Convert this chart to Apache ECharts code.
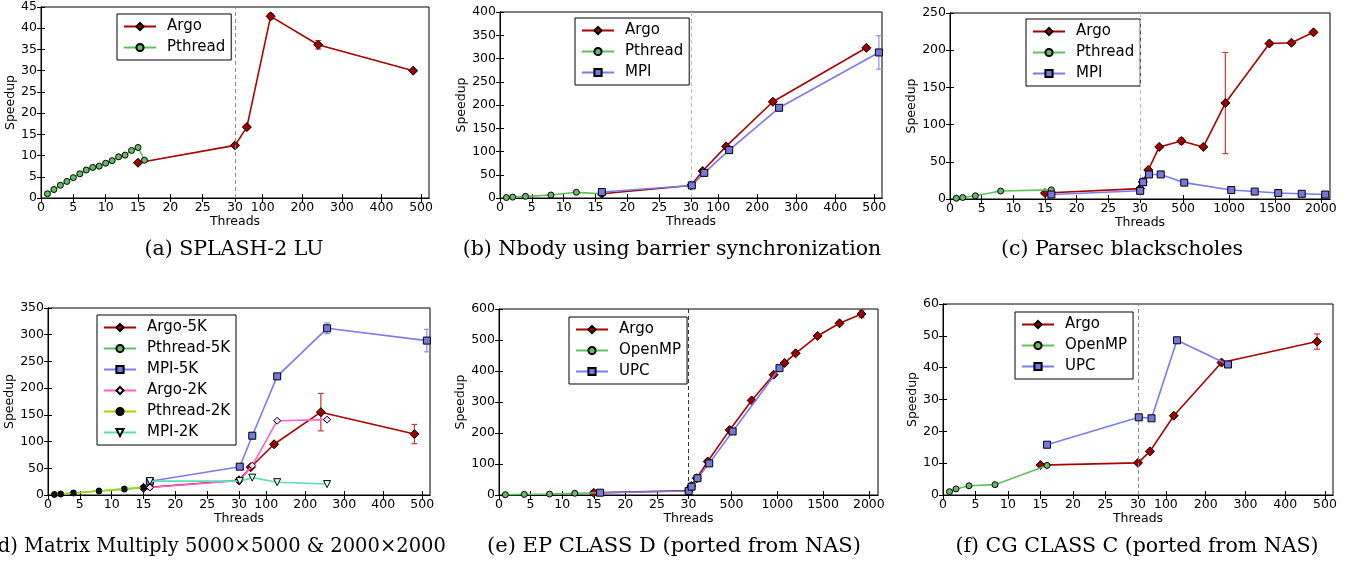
<!DOCTYPE html>
<html>
<head>
<meta charset="utf-8">
<script src="https://cdn.jsdelivr.net/npm/echarts@6/dist/echarts.min.js"></script>
<style>
  html, body { margin: 0; background: #fff; }
  #chart { width: 1356px; height: 565px; }
</style>
</head>
<body>
<div id="chart"></div>
<script>
// tick labels
const lowTicks = [0, 5, 10, 15, 20, 25, 30]
const hiTicks500 = [100, 200, 300, 400, 500]
const hiTicks2000 = [500, 1000, 1500, 2000]

// (a) SPLASH-2 LU
const aArgoThreads = [15, 30, 60, 120, 240, 480]
const aArgoSpeedup = [8.3, 12.4, 16.7, 42.8, 36.1, 30.0]
const aArgoErr = [0.3, 0.3, 0.4, 0.6, 1.0, 0.3]
const aPthreadThreads = [1, 2, 3, 4, 5, 6, 7, 8, 9, 10, 11, 12, 13, 14, 15, 16]
const aPthreadSpeedup = [1.0, 2.0, 3.0, 3.9, 4.8, 5.7, 6.6, 7.2, 7.5, 8.2, 8.8, 9.7, 10.1, 11.2, 11.9, 8.9]

// (b) Nbody
const bArgoThreads = [16, 30, 60, 120, 240, 480]
const bArgoSpeedup = [9, 27, 58, 111, 207, 323]
const bArgoErr = [0.5, 1.5, 2, 3, 3, 3]
const bPthreadThreads = [1, 2, 4, 8, 12, 16]
const bPthreadSpeedup = [1, 1.9, 3.5, 6.4, 12.2, 9.3]
const bMpiThreads = [16, 32, 64, 128, 256, 512]
const bMpiSpeedup = [13, 27, 54, 103, 194, 313]
const bMpiErr = [1, 1, 2, 2, 3, 36]

// (c) Parsec blackscholes
const cArgoThreads = [15, 30, 60, 120, 240, 480, 720, 960, 1440, 1680, 1920]
const cArgoSpeedup = [8, 14, 23, 39, 70, 78, 70, 129, 209, 210, 224]
const cArgoErr = [0.5, 0.5, 1, 2, 2, 4, 2, 68, 2, 2, 2]
const cPthreadThreads = [1, 2, 4, 8, 16]
const cPthreadSpeedup = [1, 2, 4.3, 10.7, 12.3]
const cMpiThreads = [16, 32, 64, 128, 256, 512, 1024, 1280, 1536, 1792, 2048]
const cMpiSpeedup = [6, 11, 22.5, 33, 33, 22, 12, 10, 8, 7, 6]

// (d) Matrix multiply
const dArgo5kThreads = [15, 30, 60, 120, 240, 480]
const dArgo5kSpeedup = [13.5, 27.5, 52, 95, 155, 114]
const dArgo5kErr = [0.5, 1, 2, 3, 35, 18]
const dPthread5kThreads = [1, 2, 4, 8, 12, 16]
const dPthread5kSpeedup = [1, 1.8, 3.8, 7.5, 11, 15]
const dMpi5kThreads = [16, 32, 64, 128, 256, 512]
const dMpi5kSpeedup = [25.6, 53, 111, 222, 312, 289]
const dMpi5kErr = [1, 1, 6, 4, 10, 21]
const dArgo2kThreads = [16, 32, 64, 128, 256]
const dArgo2kSpeedup = [14, 27, 55, 139, 141]
const dArgo2kErr = [1, 1, 2, 2, 3]
const dPthread2kThreads = [1, 2, 4, 8, 12, 15]
const dPthread2kSpeedup = [1, 1.9, 3.8, 7.6, 11.5, 14]
const dMpi2kThreads = [16, 32, 64, 128, 256]
const dMpi2kSpeedup = [26, 26, 32.5, 24, 20.5]

// (e) EP class D
const eArgoThreads = [15, 30, 60, 120, 240, 480, 720, 960, 1080, 1200, 1440, 1680, 1920]
const eArgoSpeedup = [7, 14, 29, 54, 108, 210, 305, 388, 426, 457, 513, 554, 584]
const eArgoErr = [0, 0, 2, 2, 3, 3, 3, 3, 3, 3, 3, 4, 12]
const eOpenmpThreads = [1, 4, 8, 12, 16]
const eOpenmpSpeedup = [1, 2, 3, 5.5, 7.5]
const eUpcThreads = [16, 32, 64, 128, 256, 512, 1024]
const eUpcSpeedup = [7.5, 13, 27, 54, 102, 205, 409]

// (f) CG class C
const fArgoThreads = [15, 30, 60, 120, 240, 480]
const fArgoSpeedup = [9.4, 10.1, 13.7, 24.9, 41.6, 48.2]
const fArgoErr = [0.3, 0.3, 0.5, 0.5, 0.5, 2.4]
const fOpenmpThreads = [1, 2, 4, 8, 16]
const fOpenmpSpeedup = [1.05, 1.9, 2.9, 3.25, 9.3]
const fUpcThreads = [16, 32, 64, 128, 256]
const fUpcSpeedup = [15.8, 24.4, 24.1, 48.6, 41.0]

const FONT = 'DejaVu Sans'
const SERIF = 'DejaVu Serif'

// marker / line styles
const ARGO = { line: '#aa0000', fill: '#a00000', err: '#c43c3c', symbol: 'diamond', size: 9 }
const GREEN = { line: '#5cc25c', fill: '#66bb66', err: '#7fd07f', symbol: 'circle', size: 6 }
const BLUE = { line: '#7b7bf0', fill: '#7777dd', err: '#8f8ff2', symbol: 'rect', size: 7 }
const PINK = { line: '#ff5fd0', fill: '#f4d8ee', err: '#ff88dd', symbol: 'diamond', size: 7 }
const YGREEN = { line: '#99dd00', fill: '#111111', err: '#bbee44', symbol: 'circle', size: 5 }
const TEAL = { line: '#5fdcb8', fill: '#e0fff4', err: '#88e8cc', symbol: 'triangle', size: 7, rotate: 180 }

// broken axis: 0..30 linear, then 30..hi squeezed into the same width
const toU = (x, hi) => x <= 30 ? x : 30 + (x - 30) * 30 / (hi - 30)
const fromU = (u, hi) => u <= 30 ? u : 30 + (u - 30) * (hi - 30) / 30

const panels = [
  { grid: { left: 41, top: 7, width: 388, height: 191 }, hi: 520, hiTicks: hiTicks500,
    yMax: 45, yInt: 5, yGap: 22, vline: '#888', legend: { left: 117, top: 14 },
    caption: '(a) SPLASH-2 LU', capX: 234, capY: 239, capSize: 20.5,
    series: [
      { name: 'Argo', x: aArgoThreads, y: aArgoSpeedup, e: aArgoErr, st: ARGO },
      { name: 'Pthread', x: aPthreadThreads, y: aPthreadSpeedup, st: GREEN }
    ] },
  { grid: { left: 500, top: 12, width: 382, height: 186 }, hi: 520, hiTicks: hiTicks500,
    yMax: 400, yInt: 50, yGap: 30, vline: '#bbb', legend: { left: 575, top: 18 },
    caption: '(b) Nbody using barrier synchronization', capX: 672, capY: 239, capSize: 20.5,
    series: [
      { name: 'Argo', x: bArgoThreads, y: bArgoSpeedup, e: bArgoErr, st: ARGO },
      { name: 'Pthread', x: bPthreadThreads, y: bPthreadSpeedup, st: GREEN },
      { name: 'MPI', x: bMpiThreads, y: bMpiSpeedup, e: bMpiErr, st: BLUE }
    ] },
  { grid: { left: 950, top: 13, width: 380, height: 186 }, hi: 2100, hiTicks: hiTicks2000,
    yMax: 250, yInt: 50, yGap: 30, vline: '#bbb', legend: { left: 1026, top: 19 },
    caption: '(c) Parsec blackscholes', capX: 1122, capY: 239, capSize: 20.5,
    series: [
      { name: 'Argo', x: cArgoThreads, y: cArgoSpeedup, e: cArgoErr, st: ARGO },
      { name: 'Pthread', x: cPthreadThreads, y: cPthreadSpeedup, st: GREEN },
      { name: 'MPI', x: cMpiThreads, y: cMpiSpeedup, st: BLUE }
    ] },
  { grid: { left: 48, top: 308, width: 382, height: 187 }, hi: 520, hiTicks: hiTicks500,
    yMax: 350, yInt: 50, yGap: 28, vline: null, legend: { left: 97, top: 315 },
    caption: '(d) Matrix Multiply 5000\u00d75000 & 2000\u00d72000', capX: 218, capY: 537, capSize: 19.5,
    series: [
      { name: 'Argo-5K', x: dArgo5kThreads, y: dArgo5kSpeedup, e: dArgo5kErr, st: ARGO },
      { name: 'Pthread-5K', x: dPthread5kThreads, y: dPthread5kSpeedup, st: GREEN },
      { name: 'MPI-5K', x: dMpi5kThreads, y: dMpi5kSpeedup, e: dMpi5kErr, st: BLUE },
      { name: 'Argo-2K', x: dArgo2kThreads, y: dArgo2kSpeedup, e: dArgo2kErr, st: PINK },
      { name: 'Pthread-2K', x: dPthread2kThreads, y: dPthread2kSpeedup, st: YGREEN },
      { name: 'MPI-2K', x: dMpi2kThreads, y: dMpi2kSpeedup, st: TEAL }
    ] },
  { grid: { left: 499, top: 309, width: 379, height: 186 }, hi: 2100, hiTicks: hiTicks2000,
    yMax: 600, yInt: 100, yGap: 30, vline: '#333', legend: { left: 569, top: 317 },
    caption: '(e) EP CLASS D (ported from NAS)', capX: 674, capY: 536, capSize: 21,
    series: [
      { name: 'Argo', x: eArgoThreads, y: eArgoSpeedup, e: eArgoErr, st: ARGO },
      { name: 'OpenMP', x: eOpenmpThreads, y: eOpenmpSpeedup, st: GREEN },
      { name: 'UPC', x: eUpcThreads, y: eUpcSpeedup, st: BLUE }
    ] },
  { grid: { left: 943, top: 304, width: 390, height: 191 }, hi: 520, hiTicks: hiTicks500,
    yMax: 60, yInt: 10, yGap: 21, vline: '#888', legend: { left: 1015, top: 312 },
    caption: '(f) CG CLASS C (ported from NAS)', capX: 1137, capY: 536, capSize: 20.5,
    series: [
      { name: 'Argo', x: fArgoThreads, y: fArgoSpeedup, e: fArgoErr, st: ARGO },
      { name: 'OpenMP', x: fOpenmpThreads, y: fOpenmpSpeedup, st: GREEN },
      { name: 'UPC', x: fUpcThreads, y: fUpcSpeedup, st: BLUE }
    ] }
]

function errItem(params, api) {
  const x = api.value(0)
  const top = api.coord([x, api.value(2)])
  const bot = api.coord([x, api.value(1)])
  const st = { stroke: api.visual('color'), lineWidth: 1.2 }
  return {
    type: 'group',
    children: [
      { type: 'line', shape: { x1: top[0], y1: top[1], x2: bot[0], y2: bot[1] }, style: st },
      { type: 'line', shape: { x1: top[0] - 3, y1: top[1], x2: top[0] + 3, y2: top[1] }, style: st },
      { type: 'line', shape: { x1: bot[0] - 3, y1: bot[1], x2: bot[0] + 3, y2: bot[1] }, style: st }
    ]
  }
}

const grids = [], xAxes = [], yAxes = [], legends = [], series = [], texts = []
const tickStyle = { color: '#000', width: 1 }

panels.forEach((p, i) => {
  grids.push({ ...p.grid, show: true, borderColor: '#000', borderWidth: 1, containLabel: false })
  const ticksU = lowTicks.concat(p.hiTicks.map(t => toU(t, p.hi)))
  xAxes.push({
    gridIndex: i, type: 'value', position: 'bottom', min: 0, max: 60,
    name: 'Threads', nameLocation: 'middle', nameGap: 16,
    nameTextStyle: { fontFamily: FONT, fontSize: 12.5, color: '#000' },
    axisLine: { show: true, lineStyle: tickStyle },
    axisTick: { show: true, inside: true, length: 4, customValues: ticksU, lineStyle: tickStyle },
    axisLabel: { customValues: ticksU, margin: 3, fontFamily: FONT, fontSize: 12.5, color: '#000',
      formatter: v => String(Math.round(fromU(v, p.hi))) },
    splitLine: { show: false }
  })
  xAxes.push({
    gridIndex: i, type: 'value', position: 'top', min: 0, max: 60,
    axisLine: { show: true, lineStyle: tickStyle },
    axisTick: { show: true, inside: true, length: 4, customValues: ticksU, lineStyle: tickStyle },
    axisLabel: { show: false }, splitLine: { show: false }
  })
  yAxes.push({
    gridIndex: i, type: 'value', position: 'left', min: 0, max: p.yMax, interval: p.yInt,
    name: 'Speedup', nameLocation: 'middle', nameGap: p.yGap, nameRotate: 90,
    nameTextStyle: { fontFamily: FONT, fontSize: 12.5, color: '#000' },
    axisLine: { show: true, lineStyle: tickStyle },
    axisTick: { show: true, inside: true, length: 4, lineStyle: tickStyle },
    axisLabel: { margin: 4, fontFamily: FONT, fontSize: 12.5, color: '#000' },
    splitLine: { show: false }
  })
  yAxes.push({
    gridIndex: i, type: 'value', position: 'right', min: 0, max: p.yMax, interval: p.yInt,
    axisLine: { show: true, lineStyle: tickStyle },
    axisTick: { show: true, inside: true, length: 4, lineStyle: tickStyle },
    axisLabel: { show: false }, splitLine: { show: false }
  })

  p.series.forEach((s, k) => {
    const line = {
      type: 'line', name: s.name, xAxisIndex: 2 * i, yAxisIndex: 2 * i,
      data: s.x.map((x, j) => [toU(x, p.hi), s.y[j]]),
      symbol: s.st.symbol, symbolSize: s.st.size, symbolRotate: s.st.rotate || 0,
      showAllSymbol: true, z: 3 + k,
      lineStyle: { color: s.st.line, width: 1.6 },
      itemStyle: { color: s.st.fill, borderColor: '#000', borderWidth: 1 },
      emphasis: { disabled: true }
    }
    if (k === 0 && p.vline) {
      line.markLine = {
        silent: true, symbol: 'none', label: { show: false },
        lineStyle: { type: [4, 3], color: p.vline, width: 1 },
        data: [{ xAxis: 30 }]
      }
    }
    series.push(line)
    if (s.e) {
      series.push({
        type: 'custom', name: s.name + ' err', xAxisIndex: 2 * i, yAxisIndex: 2 * i,
        renderItem: errItem, silent: true, z: 2,
        itemStyle: { color: s.st.err },
        encode: { x: 0, y: [1, 2] },
        data: s.x.map((x, j) => [toU(x, p.hi), s.y[j] - s.e[j], s.y[j] + s.e[j]])
          .filter((d, j) => s.e[j] > 0)
      })
    }
  })

  legends.push({
    data: p.series.map(s => s.name), orient: 'vertical',
    left: p.legend.left, top: p.legend.top,
    padding: [5, 6, 5, 6], itemGap: 6, itemWidth: 32, itemHeight: 9,
    borderColor: '#000', borderWidth: 1, borderRadius: 0, backgroundColor: '#fff',
    selectedMode: false,
    textStyle: { fontFamily: FONT, fontSize: 15, color: '#000', padding: [0, 0, 0, 6] }
  })

  texts.push({
    type: 'text', x: p.capX, y: p.capY,
    style: { text: p.caption, align: 'center', verticalAlign: 'top',
      fontFamily: SERIF, fontSize: p.capSize, fill: '#000' }
  })
})

const chart = echarts.init(document.getElementById('chart'))
chart.setOption({
  animation: false,
  backgroundColor: '#fff',
  grid: grids,
  xAxis: xAxes,
  yAxis: yAxes,
  legend: legends,
  series: series,
  graphic: texts
})
</script>
</body>
</html>
